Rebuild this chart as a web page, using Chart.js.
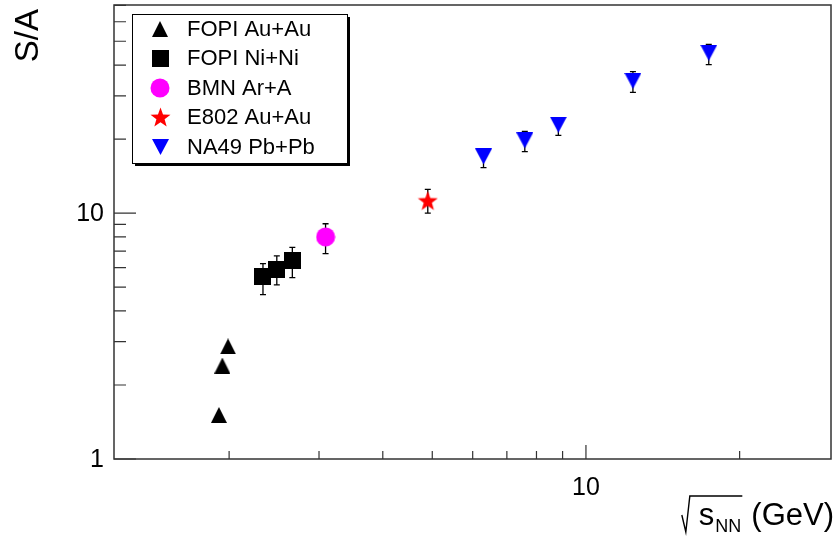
<!DOCTYPE html>
<html lang="en">
<head>
<meta charset="UTF-8">
<title>S/A vs energy</title>
<script src="https://cdn.jsdelivr.net/npm/chart.js"></script>
<style>
  body { margin: 0; background: #fff; }
  .chartBox { width: 836px; height: 541px; }
</style>
</head>
<body>
<div class="chartBox"><canvas id="saChart"></canvas></div>
<script>
// ---- data: sqrt(sNN) in GeV, S/A with lower/upper error ends ----
const fopiAuX = [1.91, 1.94, 1.99];
const fopiAuY = [1.51, 2.40, 2.87];

const fopiNiX = [2.33, 2.48, 2.66];
const fopiNiY = [5.52, 5.92, 6.43];
const fopiNiLo = [4.66, 5.11, 5.47];
const fopiNiHi = [6.23, 6.70, 7.26];

const bmnX = [3.09];
const bmnY = [8.0];
const bmnLo = [6.84];
const bmnHi = [9.05];

const e802X = [4.90];
const e802Y = [11.2];
const e802Lo = [10.0];
const e802Hi = [12.5];

const na49X = [6.30, 7.59, 8.83, 12.36, 17.4];
const na49Y = [17.0, 19.75, 22.9, 34.5, 44.9];
const na49Lo = [15.3, 17.8, 20.7, 31.0, 40.2];
const na49Hi = [18.0, 21.5, 24.0, 37.6, 48.5];

const legendLabels = ['FOPI Au+Au', 'FOPI Ni+Ni', 'BMN Ar+A', 'E802 Au+Au', 'NA49 Pb+Pb'];

// axis ticks
const xMajor = [10];
const xMinor = [2, 3, 4, 5, 6, 7, 8, 9, 20];
const yMajor = [1, 10];
const yMinor = [2, 3, 4, 5, 6, 7, 8, 9, 20, 30, 40, 50, 60, 70];

const FONT = '"Liberation Sans", Arial, Helvetica, sans-serif';

// small offscreen canvases used as point styles
function marker(w, h, paint) {
  const c = document.createElement('canvas');
  c.width = w; c.height = h;
  paint(c.getContext('2d'), w, h);
  return c;
}
const triUp = marker(16, 16, (g, w, h) => {
  g.fillStyle = '#000';
  g.beginPath(); g.moveTo(w / 2, 0); g.lineTo(w, h); g.lineTo(0, h); g.closePath(); g.fill();
});
const square = marker(17, 17, (g, w, h) => { g.fillStyle = '#000'; g.fillRect(0, 0, w, h); });
const circle = marker(20, 20, (g) => {
  g.fillStyle = '#ff00ff';
  g.beginPath(); g.arc(10, 10, 9.5, 0, Math.PI * 2); g.fill();
});
const star = marker(21, 21, (g) => {
  g.fillStyle = '#ff0000';
  g.beginPath();
  for (let i = 0; i < 10; i++) {
    const r = i % 2 === 0 ? 10.5 : 4.3;
    const a = -Math.PI / 2 + i * Math.PI / 5;
    const px = 10.5 + r * Math.cos(a), py = 11 + r * Math.sin(a);
    if (i === 0) g.moveTo(px, py); else g.lineTo(px, py);
  }
  g.closePath(); g.fill();
});
const triDown = marker(17, 16, (g, w, h) => {
  g.fillStyle = '#0000ff';
  g.beginPath(); g.moveTo(0, 0); g.lineTo(w, 0); g.lineTo(w / 2, h); g.closePath(); g.fill();
});
const legendMarkers = [triUp, square, circle, star, triDown];

function points(xs, ys) {
  return xs.map((x, i) => ({ x: x, y: ys[i] }));
}

const datasets = [
  { label: legendLabels[0], data: points(fopiAuX, fopiAuY), pointStyle: triUp },
  { label: legendLabels[1], data: points(fopiNiX, fopiNiY), pointStyle: square, lo: fopiNiLo, hi: fopiNiHi },
  { label: legendLabels[2], data: points(bmnX, bmnY), pointStyle: circle, lo: bmnLo, hi: bmnHi },
  { label: legendLabels[3], data: points(e802X, e802Y), pointStyle: star, lo: e802Lo, hi: e802Hi },
  { label: legendLabels[4], data: points(na49X, na49Y), pointStyle: triDown, lo: na49Lo, hi: na49Hi }
];

// vertical error bars with small caps, drawn under the markers
const errorBars = {
  id: 'errorBars',
  beforeDatasetsDraw(chart) {
    const ctx = chart.ctx, xs = chart.scales.x, ys = chart.scales.y;
    ctx.save();
    ctx.strokeStyle = '#000';
    ctx.lineWidth = 1.3;
    chart.data.datasets.forEach(ds => {
      if (!ds.lo) return;
      ds.data.forEach((p, i) => {
        const px = xs.getPixelForValue(p.x);
        const yLo = ys.getPixelForValue(ds.lo[i]);
        const yHi = ys.getPixelForValue(ds.hi[i]);
        ctx.beginPath();
        ctx.moveTo(px, yLo); ctx.lineTo(px, yHi);
        ctx.moveTo(px - 3, yLo); ctx.lineTo(px + 3, yLo);
        ctx.moveTo(px - 3, yHi); ctx.lineTo(px + 3, yHi);
        ctx.stroke();
      });
    });
    ctx.restore();
  }
};

// frame, inward ticks, labels, titles and the boxed legend
const frame = {
  id: 'frame',
  afterDraw(chart) {
    const ctx = chart.ctx, a = chart.chartArea;
    const xs = chart.scales.x, ys = chart.scales.y;
    ctx.save();
    ctx.strokeStyle = '#333';
    ctx.lineWidth = 1.5;
    ctx.strokeRect(a.left, a.top, a.right - a.left, a.bottom - a.top);

    ctx.lineWidth = 1.2;
    ctx.beginPath();
    xMajor.forEach(v => { const p = xs.getPixelForValue(v); ctx.moveTo(p, a.bottom); ctx.lineTo(p, a.bottom - 14); });
    xMinor.forEach(v => { const p = xs.getPixelForValue(v); ctx.moveTo(p, a.bottom); ctx.lineTo(p, a.bottom - 8); });
    yMajor.forEach(v => { const p = ys.getPixelForValue(v); ctx.moveTo(a.left, p); ctx.lineTo(a.left + 22, p); });
    yMinor.forEach(v => { const p = ys.getPixelForValue(v); ctx.moveTo(a.left, p); ctx.lineTo(a.left + 12, p); });
    ctx.stroke();

    ctx.fillStyle = '#000';
    ctx.font = '25px ' + FONT;
    ctx.textAlign = 'center';
    ctx.textBaseline = 'alphabetic';
    xMajor.forEach(v => ctx.fillText(String(v), xs.getPixelForValue(v), 495));
    ctx.textAlign = 'right';
    ctx.textBaseline = 'middle';
    yMajor.forEach(v => ctx.fillText(String(v), 104, ys.getPixelForValue(v) + 1));

    // y title
    ctx.save();
    ctx.translate(38, 9);
    ctx.rotate(-Math.PI / 2);
    ctx.font = '33px ' + FONT;
    ctx.textAlign = 'right';
    ctx.textBaseline = 'alphabetic';
    ctx.fillText('S/A', 0, 0);
    ctx.restore();

    // x title: sqrt(s_NN) (GeV), right aligned
    const base = 525;
    ctx.textBaseline = 'alphabetic';
    ctx.textAlign = 'left';
    ctx.font = '31px ' + FONT;
    const wGev = ctx.measureText('(GeV)').width;
    const wS = ctx.measureText('s').width;
    ctx.font = '18px ' + FONT;
    const wNN = ctx.measureText('NN').width;
    const xGev = 834 - wGev;
    const xNN = xGev - 10 - wNN;
    const xS = xNN - wS - 1;
    ctx.font = '31px ' + FONT;
    ctx.fillText('(GeV)', xGev, base);
    ctx.fillText('s', xS, base);
    ctx.font = '18px ' + FONT;
    ctx.fillText('NN', xNN, base + 7);
    ctx.strokeStyle = '#000';
    ctx.lineWidth = 1.4;
    ctx.beginPath();
    ctx.moveTo(xS - 17, base - 10);
    ctx.lineTo(xS - 13, base + 7);
    ctx.lineTo(xS - 9, base - 29);
    ctx.lineTo(xNN + wNN + 1, base - 29);
    ctx.stroke();

    // legend box with shadow
    const L = 132, T = 14, W = 215, H = 149;
    ctx.fillStyle = '#000';
    ctx.fillRect(L + 3, T + 3, W, H);
    ctx.fillStyle = '#fff';
    ctx.fillRect(L, T, W, H);
    ctx.strokeStyle = '#000';
    ctx.lineWidth = 1;
    ctx.strokeRect(L + 0.5, T + 0.5, W, H);
    ctx.font = '22px ' + FONT;
    ctx.fillStyle = '#000';
    ctx.textAlign = 'left';
    ctx.textBaseline = 'alphabetic';
    legendLabels.forEach((txt, i) => {
      const yb = 35.5 + i * 29.5;
      const m = legendMarkers[i];
      ctx.drawImage(m, Math.round(160 - m.width / 2), Math.round(yb - 7 - m.height / 2));
      ctx.fillText(txt, 187, yb);
    });
    ctx.restore();
  }
};

new Chart(document.getElementById('saChart'), {
  type: 'scatter',
  data: { datasets: datasets },
  options: {
    responsive: true,
    maintainAspectRatio: false,
    animation: false,
    events: [],
    layout: { padding: { left: 114, top: 3, right: 4, bottom: 82 } },
    plugins: { legend: { display: false }, tooltip: { enabled: false } },
    scales: {
      x: { type: 'logarithmic', min: 1.19, max: 30.2, display: false },
      y: { type: 'logarithmic', min: 1, max: 70.2, display: false }
    }
  },
  plugins: [errorBars, frame]
});
</script>
</body>
</html>
